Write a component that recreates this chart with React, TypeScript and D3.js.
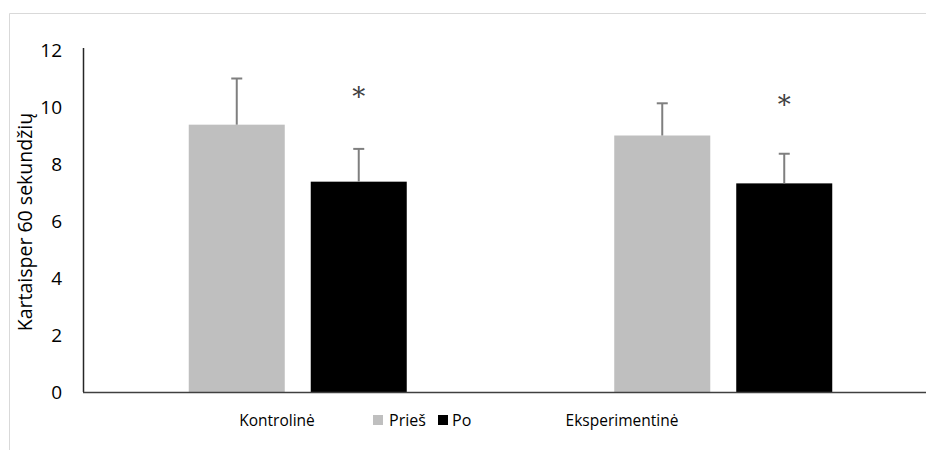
import React from "react";
import * as d3 from "d3";

const categories = ["Kontrolinė", "Eksperimentinė"];
const series = ["Prieš", "Po"];
const priesValues = [9.38, 9.0];
const poValues = [7.38, 7.32];
const priesErrors = [1.62, 1.13];
const poErrors = [1.15, 1.04];
const starValues = [10.5, 10.2];
const yTicks = [0, 2, 4, 6, 8, 10, 12];
const colors = ["#BFBFBF", "#000000"];

const W = 926;
const H = 450;
const FONT = "'Open Sans', 'Noto Sans', sans-serif";

export default function App() {
  const y = d3.scaleLinear().domain([0, 12]).range([392, 50]);
  const x = d3.scaleBand<string>().domain(categories).range([85, 936]).padding(0);
  const inner = d3.scaleBand<string>().domain(series).range([-109, 109]).paddingInner(0.213);
  const valuesBySeries = [priesValues, poValues];
  const errorsBySeries = [priesErrors, poErrors];
  const labelX = [277, 622];

  return (
    <svg width={W} height={H} style={{ position: "absolute", left: 0, top: 0, display: "block" }}>
      <rect x={0} y={0} width={W} height={H} fill="#fff" />
      <line x1={9.5} y1={13.5} x2={W} y2={13.5} stroke="#d9d9d9" strokeWidth={1} />
      <line x1={9.5} y1={13.5} x2={9.5} y2={H} stroke="#d9d9d9" strokeWidth={1} />

      {categories.map((c, i) =>
        series.map((s, j) => {
          const cx = (x(c) ?? 0) + x.bandwidth() / 2;
          const bx = cx + (inner(s) ?? 0);
          const v = valuesBySeries[j][i];
          const e = errorsBySeries[j][i];
          const mx = bx + inner.bandwidth() / 2;
          return (
            <g key={c + s}>
              <rect x={bx} y={y(v)} width={inner.bandwidth()} height={y(0) - y(v)} fill={colors[j]} />
              <line x1={mx} x2={mx} y1={y(v)} y2={y(v + e)} stroke="#7f7f7f" strokeWidth={2} />
              <line x1={mx - 5.5} x2={mx + 5.5} y1={y(v + e)} y2={y(v + e)} stroke="#7f7f7f" strokeWidth={2} />
            </g>
          );
        })
      )}

      {categories.map((c, i) => {
        const cx = (x(c) ?? 0) + x.bandwidth() / 2 + (inner("Po") ?? 0) + inner.bandwidth() / 2;
        return (
          <text key={"star" + c} x={cx} y={y(starValues[i]) + 13} textAnchor="middle" fontFamily="'DejaVu Serif', serif" fontSize={26} fill="#404040">
            *
          </text>
        );
      })}

      <line x1={83.5} x2={83.5} y1={48} y2={y(0)} stroke="#262626" strokeWidth={1.5} />
      <line x1={83} x2={W} y1={y(0) + 0.5} y2={y(0) + 0.5} stroke="#404040" strokeWidth={1.5} />

      {yTicks.map((t) => (
        <text key={t} x={62} y={y(t)} dy="0.36em" textAnchor="end" fontFamily={FONT} fontSize={19} fill="#000">
          {t}
        </text>
      ))}

      <text transform={`translate(32,222) rotate(-90)`} textAnchor="middle" fontFamily={FONT} fontSize={19.5} fill="#000">
        Kartaisper 60 sekundžių
      </text>

      {categories.map((c, i) => (
        <text key={"lab" + c} x={labelX[i]} y={426} textAnchor="middle" fontFamily={FONT} fontSize={15.5} fill="#000">
          {c}
        </text>
      ))}

      <g>
        <rect x={373} y={415} width={10} height={10} fill={colors[0]} />
        <text x={389} y={426} fontFamily={FONT} fontSize={16} fill="#000">{series[0]}</text>
        <rect x={438} y={415} width={10} height={10} fill={colors[1]} />
        <text x={452} y={426} fontFamily={FONT} fontSize={16} fill="#000">{series[1]}</text>
      </g>
    </svg>
  );
}
